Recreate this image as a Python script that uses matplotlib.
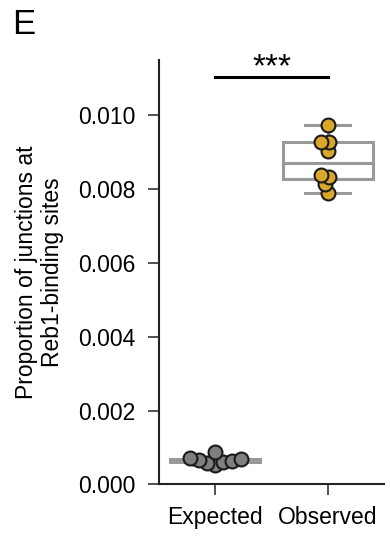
import numpy as np
import matplotlib
matplotlib.use("Agg")
import matplotlib.pyplot as plt

plt.rcParams['font.family'] = ['Liberation Sans', 'DejaVu Sans']

categories = ["Expected", "Observed"]
expected = [0.00052, 0.00058, 0.00061, 0.00063, 0.00066, 0.00068, 0.00071, 0.00087]
observed = [0.00791, 0.00813, 0.00833, 0.00838, 0.00904, 0.00927, 0.00927, 0.00974]
point_colors = ["#7f7f7f", "#d9a72c"]
ylabel = "Proportion of junctions at\nReb1-binding sites"
yticks = [0.0, 0.002, 0.004, 0.006, 0.008, 0.010]


def swarm_offsets(ax, xc, values, diam_px):
    # simple beeswarm in pixel space: place points low to high, nearest to centre
    pts = ax.transData.transform(np.c_[np.full(len(values), xc), values])
    ys = pts[:, 1]
    xs = np.zeros(len(values))
    placed = []
    left_first = True
    for i in np.argsort(ys, kind="stable"):
        y = ys[i]
        cands = [0.0]
        for px, py in placed:
            dy = y - py
            if abs(dy) < diam_px:
                dx = np.sqrt(diam_px**2 - dy**2) * 1.02
                pair = [px - dx, px + dx] if left_first else [px + dx, px - dx]
                cands += pair
                left_first = not left_first
        cands.sort(key=abs)
        for c in cands:
            if all((c - px)**2 + (y - py)**2 >= diam_px**2 * 0.999 for px, py in placed):
                xs[i] = c
                placed.append((c, y))
                break
    out = np.c_[pts[:, 0] + xs, ys]
    return ax.transData.inverted().transform(out)[:, 0]


fig = plt.figure(figsize=(3.9, 5.42), dpi=100)
ax = fig.add_axes([0.408, 0.1065, 0.577, 0.7825])

ax.set_xlim(-0.5, 1.5)
ax.set_ylim(0, 0.0115)

box_color = "#999999"
ax.boxplot([expected, observed], positions=[0, 1], widths=0.8, patch_artist=True,
           boxprops=dict(facecolor="white", edgecolor=box_color, linewidth=2.2),
           medianprops=dict(color=box_color, linewidth=2.2),
           whiskerprops=dict(color=box_color, linewidth=2.2),
           capprops=dict(color=box_color, linewidth=2.2),
           flierprops=dict(marker="d", markerfacecolor=box_color, markeredgecolor=box_color,
                           markersize=6),
           capwidths=0.4, zorder=1)

msize = 10
# swarm packed tighter than the drawn marker, so circles overlap as in the figure
swarm_diam = 0.62 * msize / 72 * fig.dpi
for i, vals in enumerate([expected, observed]):
    xs = swarm_offsets(ax, i, vals, swarm_diam)
    ax.scatter(xs, vals, s=msize**2, color=point_colors[i], edgecolor="#1a1a1a",
               linewidth=1.5, zorder=3)

# significance bar
ax.plot([0, 1], [0.01103, 0.01103], color="black", lw=2.2, clip_on=False)
ax.text(0.5, 0.01106, "***", ha="center", va="baseline", fontsize=24)

ax.set_xticks([0, 1])
ax.set_xticklabels(categories, fontsize=16.5)
ax.set_yticks(yticks)
ax.set_yticklabels([f"{v:.3f}" for v in yticks], fontsize=16.5)
ax.set_ylabel(ylabel, fontsize=16.5, labelpad=10)
ax.tick_params(length=8, width=1.1, color="#222222")
ax.tick_params(axis="y", pad=9)
ax.tick_params(axis="x", pad=8)
for s in ["top", "right"]:
    ax.spines[s].set_visible(False)
for s in ["left", "bottom"]:
    ax.spines[s].set_linewidth(1.5)
    ax.spines[s].set_color("#222222")

fig.text(0.03, 0.985, "E", fontsize=25, va="top", ha="left")

fig.savefig("out.png", dpi=100)
